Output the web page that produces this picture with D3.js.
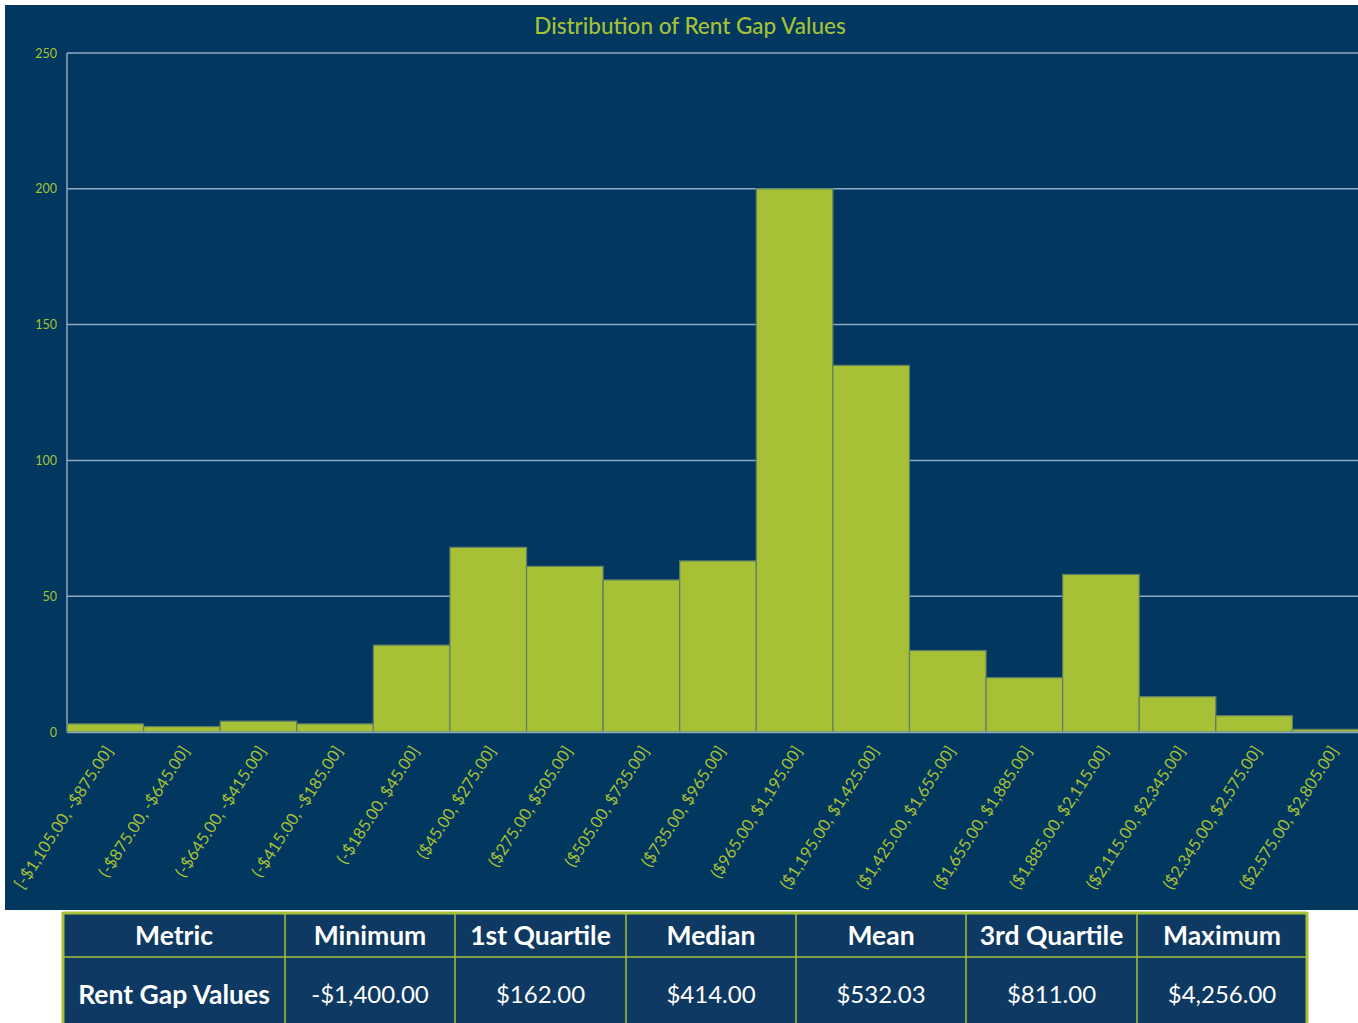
<!DOCTYPE html>
<html>
<head>
<meta charset="utf-8">
<script src="https://cdn.jsdelivr.net/npm/d3@7"></script>
<style>
  body { margin: 0; background: #fff; }
  svg { display: block; }
</style>
</head>
<body>
<svg width="1358" height="1023"></svg>
<script>
// histogram bins and counts
var bins = ["[-$1,105.00, -$875.00]", "(-$875.00, -$645.00]", "(-$645.00, -$415.00]", "(-$415.00, -$185.00]",
  "(-$185.00, $45.00]", "($45.00, $275.00]", "($275.00, $505.00]", "($505.00, $735.00]", "($735.00, $965.00]",
  "($965.00, $1,195.00]", "($1,195.00, $1,425.00]", "($1,425.00, $1,655.00]", "($1,655.00, $1,885.00]",
  "($1,885.00, $2,115.00]", "($2,115.00, $2,345.00]", "($2,345.00, $2,575.00]", "($2,575.00, $2,805.00]"];
var counts = [3, 2, 4, 3, 32, 68, 61, 56, 63, 200, 135, 30, 20, 58, 13, 6, 1];
var yTicks = [0, 50, 100, 150, 200, 250];

// summary table
var tableHead = ["Metric", "Minimum", "1st Quartile", "Median", "Mean", "3rd Quartile", "Maximum"];
var tableRow = ["Rent Gap Values", "-$1,400.00", "$162.00", "$414.00", "$532.03", "$811.00", "$4,256.00"];
var colEdges = [63, 285, 455, 626, 796, 966, 1137, 1307];

var svg = d3.select("svg");
var green = "#a6c136", bg = "#023760";
var font = "Lato, 'Open Sans', sans-serif";

svg.append("rect").attr("x", 5).attr("y", 5).attr("width", 1353).attr("height", 905).attr("fill", bg);

var x = d3.scaleBand().domain(bins).range([67, 1369]).padding(0);
var y = d3.scaleLinear().domain([0, 250]).range([732, 53]);

svg.append("text")
  .attr("x", 690).attr("y", 34)
  .attr("text-anchor", "middle")
  .attr("fill", green)
  .attr("font-family", font)
  .attr("font-size", 22.5)
  .style("font-weight", 500)
  .text("Distribution of Rent Gap Values");

// grid
svg.append("g").selectAll("line").data(yTicks).enter().append("line")
  .attr("x1", 67).attr("x2", 1358)
  .attr("y1", d => y(d)).attr("y2", d => y(d))
  .attr("stroke", "#8fa9c2").attr("stroke-width", 1.5);

svg.append("line").attr("x1", 67).attr("x2", 67).attr("y1", y(250)).attr("y2", y(0))
  .attr("stroke", "#8fa9c2").attr("stroke-width", 1.5);

var yAxis = svg.append("g").attr("transform", "translate(60,0)")
  .call(d3.axisLeft(y).tickValues(yTicks).tickSize(0));
yAxis.select(".domain").remove();
yAxis.selectAll("text").attr("fill", green).attr("font-family", font).attr("font-size", 12.5).attr("dx", "0");

// bars
svg.append("g").selectAll("rect").data(counts).enter().append("rect")
  .attr("x", (d, i) => x(bins[i]))
  .attr("y", d => y(d))
  .attr("width", x.bandwidth())
  .attr("height", d => y(0) - y(d))
  .attr("fill", green)
  .attr("stroke", "#5e7f68")
  .attr("stroke-width", 1.2);

var xAxis = svg.append("g").attr("transform", "translate(0,732)")
  .call(d3.axisBottom(x).tickSize(0));
xAxis.select(".domain").attr("stroke", "#8fa9c2").attr("stroke-width", 1.5);
xAxis.selectAll("text")
  .attr("fill", green)
  .attr("font-family", font)
  .attr("font-size", 16.5)
  .attr("text-anchor", "end")
  .attr("dy", "0.35em")
  .attr("transform", "translate(1,14) rotate(-57)");

// table
var tg = svg.append("g");
var rows = [tableHead, tableRow];
var rowMid = [936, 995];
tg.append("rect").attr("x", colEdges[0]).attr("y", 912).attr("width", colEdges[7] - colEdges[0]).attr("height", 120)
  .attr("fill", "#0e3962");
rows.forEach(function(r, ri) {
  tg.selectAll(null).data(r).enter().append("text")
    .attr("x", (d, i) => (colEdges[i] + colEdges[i + 1]) / 2)
    .attr("y", rowMid[ri])
    .attr("dy", "0.35em")
    .attr("text-anchor", "middle")
    .attr("fill", "#fff")
    .attr("font-family", font)
    .attr("font-size", (d, i) => (ri === 0 || i === 0) ? 26.5 : 24)
    .style("font-weight", (d, i) => (ri === 0 || i === 0) ? "bold" : "normal")
    .text(d => d);
});
tg.selectAll(null).data(colEdges).enter().append("line")
  .attr("x1", d => d).attr("x2", d => d).attr("y1", 912).attr("y2", 1023)
  .attr("stroke", green).attr("stroke-width", (d, i) => (i === 0 || i === 7) ? 3 : 1.5);
tg.selectAll(null).data([913, 957]).enter().append("line")
  .attr("x1", colEdges[0]).attr("x2", colEdges[7]).attr("y1", d => d).attr("y2", d => d)
  .attr("stroke", green).attr("stroke-width", (d, i) => i === 0 ? 3 : 1.5);
</script>
</body>
</html>
